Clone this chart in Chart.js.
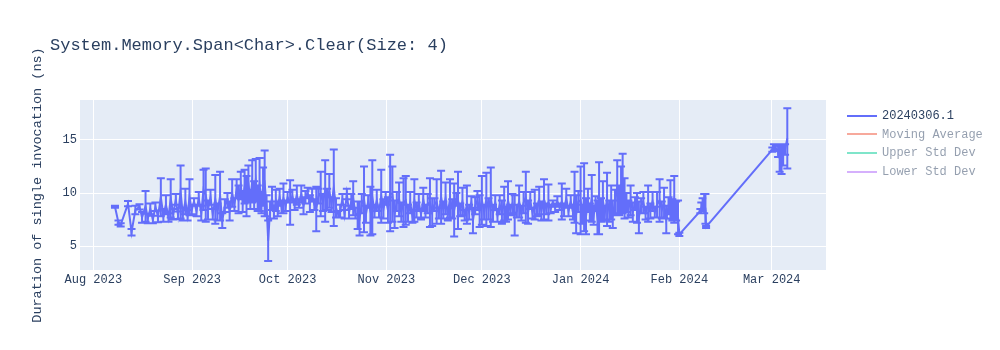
<!DOCTYPE html>
<html>
<head>
<meta charset="utf-8">
<title>System.Memory.Span&lt;Char&gt;.Clear(Size: 4)</title>
<script src="https://cdn.jsdelivr.net/npm/chart.js@4.4.1/dist/chart.umd.min.js"></script>
<style>
  html, body { margin: 0; padding: 0; background: #fff; }
  #wrap { position: relative; width: 1000px; height: 350px; }
  #chartTitle {
    position: absolute; left: 50px; top: 36px;
    font: 17px "Liberation Mono", "Courier New", monospace;
    line-height: 20px; color: #2a3f5f; white-space: pre;
  }
  #chartLegend {
    position: absolute; left: 847px; top: 107px;
    font: 12px "Liberation Mono", "Courier New", monospace; color: #2a3f5f;
  }
  .lg-item { height: 18.6px; line-height: 18.6px; white-space: pre; }
  .lg-item.off { opacity: 0.5; }
  .lg-line { display: inline-block; width: 30px; height: 2px; vertical-align: middle; margin-right: 5px; }
</style>
</head>
<body>
<div id="wrap">
  <canvas id="chartBench" width="1000" height="350"></canvas>
  <div id="chartTitle">System.Memory.Span&lt;Char&gt;.Clear(Size: 4)</div>
  <div id="chartLegend"></div>
</div>
<script>
// ─── Data ────────────────────────────────────────────────────────────────────
// runDay = days after seriesStart, meanNs = duration, errNs = error bar half-size
const seriesStart = '2023-08-01';
const seriesLabel = '20240306.1';
const hiddenLabels = ['Moving Average', 'Upper Std Dev', 'Lower Std Dev'];

const runDay = [
  6.8, 7.9, 8.6, 10.9, 12.0, 13.2, 14.5, 15.3, 16.4, 17.1, 17.9, 18.7, 19.5, 20.3,
  21.2, 22.0, 22.8, 23.6, 24.3, 25.1, 25.9, 26.6, 27.4, 28.1, 28.9, 29.6, 30.2, 30.9,
  31.6, 32.4, 33.1, 33.9, 34.6, 35.3, 36.0, 36.8, 37.5, 38.3, 39.0, 39.8, 40.5, 41.3,
  42.1, 42.8, 43.6, 44.3, 45.0, 45.6, 46.3, 46.9, 47.5, 48.1, 48.7, 49.3, 49.9, 50.5,
  51.0, 51.6, 52.2, 52.8, 53.3, 53.8, 54.4, 54.9, 55.5, 56.1, 56.7, 57.3, 57.9, 58.5,
  59.1, 59.7, 60.4,
  61.0, 61.8, 62.5, 63.2, 63.9, 64.6, 65.3, 66.0, 66.6, 67.3, 68.0, 68.7, 69.4, 70.0,
  70.7, 71.4, 72.1, 72.8, 73.4, 74.1, 74.8, 75.5, 76.2, 76.9, 77.5, 78.2, 78.9, 79.6,
  80.3, 81.0, 81.6, 82.3, 83.0, 83.6, 84.3, 85.0, 85.6, 86.3, 87.0, 87.6, 88.3, 89.0,
  89.7, 90.4, 91.1, 91.8,
  92.5, 93.2, 93.9, 94.6, 95.3, 96.0, 96.7, 97.4, 98.1, 98.8, 99.5, 100.2, 100.8, 101.5,
  102.2, 102.9, 103.6, 104.3, 105.0, 105.7, 106.4, 107.1, 107.8, 108.5, 109.2, 109.9,
  110.6, 111.3, 112.0, 112.7, 113.3, 114.0, 114.5, 115.2, 115.9, 116.6, 117.3, 118.0,
  118.7, 119.2, 119.9, 120.6, 121.3, 122.0,
  122.7, 123.4, 124.1, 124.8, 125.5, 126.2, 126.9, 127.6, 128.3, 129.0, 129.6, 130.2,
  130.9, 131.6, 132.3, 133.0, 133.7, 134.4, 135.1, 135.8, 136.5, 137.2, 137.9, 138.6,
  139.3, 140.0, 140.7, 141.5, 142.2, 142.9, 143.6, 144.3, 145.0, 145.7, 146.4, 147.1,
  147.8, 148.5, 149.2, 149.9, 150.6, 151.1, 151.6, 152.3,
  153.0, 153.6, 154.1, 154.7, 155.3, 155.9, 156.5, 157.1, 157.7, 158.3, 158.8, 159.4,
  160.0, 160.6, 161.3, 162.0, 162.6, 163.1, 163.8, 164.5, 165.1, 165.7, 166.2, 166.8,
  167.4, 168.0, 168.7, 169.4, 170.1, 170.7, 171.3, 172.0, 172.7, 173.4, 174.2, 174.9,
  175.6, 176.3, 177.0, 177.8, 178.5, 179.2, 179.9, 180.6, 181.2, 181.8, 182.4, 183.0,
  183.6, 184.0,
  190.6, 190.9, 191.3, 191.8, 192.2, 192.4,
  213.2, 213.7, 214.3, 215.0, 215.5, 216.1, 216.6, 217.2, 217.9
];

const meanNs = [
  8.7, 7.2, 7.0, 9.0, 6.3, 8.4, 8.7, 7.7, 8.75, 7.6, 8.5, 7.5, 8.7, 7.8,
  9.6, 7.9, 8.9, 7.7, 9.5, 8.0, 9.4, 7.9, 10.1, 8.0, 9.2, 7.9, 9.6, 8.4,
  9.2, 8.3, 9.5, 8.1, 10.3, 9.8, 8.4, 9.6, 8.0, 9.4, 8.2, 9.7, 7.4, 8.8,
  9.3, 8.3, 10.0, 8.9, 10.4, 9.4, 10.7, 9.2, 10.6, 9.7, 10.9, 9.4, 11.1, 9.8,
  11.2, 9.5, 10.8, 9.1, 10.6, 10.9, 8.8, 5.5, 8.4, 9.5, 8.2, 9.3, 8.5, 9.6,
  8.7, 9.5, 8.8,
  9.6, 9.1, 9.7, 8.9, 9.8, 9.0, 9.9, 8.8, 9.6, 10.0, 9.0, 9.8, 8.9, 8.5,
  9.7, 9.9, 9.1, 10.2, 9.4, 10.2, 8.9, 10.5, 8.6, 8.0, 8.3, 9.4, 8.0, 9.9,
  8.2, 9.2, 9.5, 8.1, 7.9, 7.6, 9.0, 9.4, 8.0, 9.2, 8.3, 9.6, 8.3, 9.3,
  8.2, 9.7, 8.5, 9.5,
  8.4, 10.0, 9.9, 8.0, 9.2, 9.4, 8.2, 9.1, 9.3, 8.1, 9.1, 7.8, 9.3, 8.4,
  9.1, 8.0, 9.4, 8.3, 9.0, 9.1, 8.2, 8.9, 9.2, 8.1, 9.6, 8.4,
  9.5, 8.0, 9.5, 8.5, 8.4, 9.4, 9.3, 8.4, 9.2, 7.9, 8.9, 8.2,
  9.1, 7.4, 8.8, 9.3, 8.3, 9.3,
  8.2, 9.4, 8.5, 9.6, 8.1, 9.1, 7.9, 8.9, 8.2, 9.0, 8.0, 9.3,
  8.4, 9.0, 7.9, 8.3, 9.2, 8.1, 9.1, 9.6, 8.2, 9.3, 8.1, 8.9,
  8.4, 9.3, 8.3, 9.4, 8.5, 9.1, 8.5, 9.0, 8.6, 9.2, 8.7, 9.2,
  8.4, 9.5, 8.3, 9.2, 8.2, 9.6, 8.0, 9.2,
  9.3, 8.0, 9.6, 7.8, 9.3, 8.2, 9.5, 7.9, 9.0, 7.7, 9.5, 8.4,
  9.3, 8.1, 9.4, 8.3, 9.1, 8.0, 9.1, 10.6, 9.3, 10.3, 10.9, 9.5,
  9.1, 8.5, 9.3, 8.2, 9.0, 8.6, 7.7, 8.8, 9.1, 8.1, 9.0, 8.3,
  9.2, 8.2, 8.9, 9.3, 8.4, 9.1, 7.5, 8.8, 9.4, 8.4, 9.4, 8.3,
  7.7, 6.1,
  8.3, 8.6, 8.9, 9.0, 8.5, 6.8,
  14.1, 14.3, 14.2, 14.0, 13.3, 13.2, 13.6, 14.1, 15.15
];

const errNs = [
  0.1, 0.2, 0.15, 0.25, 0.3, 0.4, 0.25, 0.5, 1.45, 0.45, 0.5, 0.35, 0.4, 0.55,
  1.8, 0.6, 0.9, 0.4, 1.8, 0.5, 0.5, 0.35, 2.5, 0.6, 1.2, 0.5, 1.7, 0.4,
  0.3, 0.5, 0.6, 0.7, 1.9, 2.5, 0.9, 0.7, 0.5, 2.3, 0.8, 2.3, 0.7, 0.6,
  0.7, 0.9, 1.3, 0.6, 0.9, 1.3, 1.3, 1.0, 1.6, 1.9, 1.7, 0.9, 2.0, 1.3,
  2.0, 1.2, 2.5, 1.0, 1.8, 3.1, 1.0, 1.9, 0.8, 1.1, 0.6, 1.0, 0.7, 0.8,
  0.6, 1.4, 0.5,
  0.5, 2.1, 0.6, 0.5, 0.9, 0.4, 0.8, 0.8, 0.6, 0.5, 0.8, 0.6, 0.5, 2.1,
  0.7, 2.1, 0.8, 2.9, 1.0, 1.6, 0.7, 3.6, 0.9, 0.3, 0.6, 0.5, 0.4, 0.5,
  0.6, 0.7, 1.6, 0.5, 1.3, 1.6, 0.9, 3.1, 0.8, 0.6, 2.3, 3.5, 0.6, 1.0,
  0.5, 2.5, 0.9, 0.6,
  1.2, 3.6, 2.6, 1.3, 0.9, 1.6, 0.9, 2.3, 2.3, 0.8, 1.0, 0.6, 2.0, 0.7,
  0.8, 0.5, 1.1, 0.6, 0.9, 2.3, 1.3, 0.6, 2.1, 0.5, 2.5, 0.8,
  1.5, 0.6, 1.8, 0.9, 2.5, 0.6, 2.7, 0.6, 1.3, 0.5, 1.8, 0.7,
  0.6, 1.2, 0.8, 0.9, 1.5, 2.3,
  0.7, 2.5, 1.0, 2.8, 0.8, 0.7, 0.6, 0.9, 1.1, 1.6, 0.7, 1.8,
  0.5, 0.9, 1.9, 0.6, 1.5, 0.7, 1.0, 2.4, 1.1, 0.8, 0.5, 1.4,
  0.6, 1.3, 0.9, 1.9, 0.5, 1.7, 0.4, 0.3, 0.4, 0.5, 0.3, 1.7,
  0.6, 0.9, 0.5, 0.6, 0.7, 2.4, 1.8, 1.0,
  3.2, 0.9, 3.2, 1.7, 1.1, 0.8, 2.2, 0.9, 0.7, 1.6, 3.4, 1.1,
  1.8, 0.7, 2.5, 1.0, 1.6, 1.3, 1.2, 2.5, 1.4, 2.2, 2.8, 1.9,
  0.9, 0.8, 1.4, 0.9, 0.6, 1.4, 1.5, 0.7, 1.0, 0.6, 1.7, 0.7,
  0.9, 0.5, 1.2, 2.0, 0.8, 1.4, 1.3, 0.8, 1.8, 1.0, 2.2, 0.9,
  1.6, 0.15,
  0.2, 0.5, 0.6, 0.9, 1.4, 0.1,
  0.2, 0.3, 0.25, 0.6, 1.3, 1.4, 1.0, 0.5, 2.85
];

const tickDates  = ['2023-08-01', '2023-09-01', '2023-10-01', '2023-11-01', '2023-12-01', '2024-01-01', '2024-02-01', '2024-03-01'];
const tickLabels = ['Aug 2023', 'Sep 2023', 'Oct 2023', 'Nov 2023', 'Dec 2023', 'Jan 2024', 'Feb 2024', 'Mar 2024'];
const yTickValues = [5, 10, 15];

// ─── Styling ─────────────────────────────────────────────────────────────────
const MONO      = '"Liberation Mono", "Courier New", monospace';
const INK       = '#2a3f5f';
const PLOT_BG   = '#e5ecf6';
const SERIES    = '#636efa';
const HIDDEN_COLOURS = ['#EF553B', '#00cc96', '#ab63fa'];

const DAY_MS = 864e5;
const tickDays = tickDates.map(s => (Date.parse(s) - Date.parse(seriesStart)) / DAY_MS);

// ─── Plugins ─────────────────────────────────────────────────────────────────
const plotBackground = {
  id: 'plotBackground',
  beforeDraw(chart) {
    const { ctx, chartArea: a } = chart;
    ctx.save();
    ctx.fillStyle = PLOT_BG;
    ctx.fillRect(a.left, a.top, a.right - a.left, a.bottom - a.top);
    ctx.restore();
  }
};

// symmetric error bars with caps, positioned through the chart's own scales
const errorBars = {
  id: 'errorBars',
  afterDatasetsDraw(chart) {
    const meta = chart.getDatasetMeta(0);
    const y = chart.scales.y;
    const { ctx, chartArea: a } = chart;
    ctx.save();
    ctx.beginPath();
    ctx.rect(a.left, a.top, a.right - a.left, a.bottom - a.top);
    ctx.clip();
    ctx.strokeStyle = SERIES;
    ctx.lineWidth = 2;
    ctx.beginPath();
    meta.data.forEach((pt, i) => {
      const top = y.getPixelForValue(meanNs[i] + errNs[i]);
      const bot = y.getPixelForValue(meanNs[i] - errNs[i]);
      ctx.moveTo(pt.x, top);     ctx.lineTo(pt.x, bot);
      ctx.moveTo(pt.x - 4, top); ctx.lineTo(pt.x + 4, top);
      ctx.moveTo(pt.x - 4, bot); ctx.lineTo(pt.x + 4, bot);
    });
    ctx.stroke();
    ctx.restore();
  }
};

// ─── Chart ───────────────────────────────────────────────────────────────────
const datasets = [{
  label: seriesLabel,
  data: runDay.map((d, i) => ({ x: d, y: meanNs[i] })),
  borderColor: SERIES,
  backgroundColor: SERIES,
  borderWidth: 2,
  pointRadius: 0,
  tension: 0,
  fill: false,
}].concat(hiddenLabels.map((label, i) => ({
  label,
  data: [],
  borderColor: HIDDEN_COLOURS[i],
  backgroundColor: HIDDEN_COLOURS[i],
  borderWidth: 2,
  pointRadius: 0,
  hidden: true,
})));

const chart = new Chart(document.getElementById('chartBench'), {
  type: 'line',
  data: { datasets },
  options: {
    responsive: false,
    animation: false,
    devicePixelRatio: 1,
    layout: { padding: { left: 0, right: 174, top: 100, bottom: 50 } },
    plugins: { legend: { display: false }, title: { display: false }, tooltip: { enabled: false } },
    scales: {
      x: {
        type: 'linear',
        min: -4.18,
        max: 230.05,
        afterBuildTicks: s => { s.ticks = tickDays.map(value => ({ value })); },
        afterFit: s => { s.height = 30; },
        ticks: {
          autoSkip: false, maxRotation: 0, padding: 3,
          color: INK, font: { family: MONO, size: 12 },
          callback: v => tickLabels[tickDays.indexOf(v)],
        },
        grid: { color: '#ffffff', lineWidth: 1, drawTicks: false },
        border: { display: false },
      },
      y: {
        min: 2.74,
        max: 18.77,
        afterBuildTicks: s => { s.ticks = yTickValues.map(value => ({ value })); },
        afterFit: s => { s.width = 80; },
        ticks: { padding: 3, color: INK, font: { family: MONO, size: 12 }, callback: v => String(v) },
        grid: { color: '#ffffff', lineWidth: 1, drawTicks: false },
        border: { display: false },
        title: {
          display: true,
          text: 'Duration of single invocation (ns)',
          color: INK,
          font: { family: MONO, size: 13.5 },
          padding: { top: 29, bottom: 0 },
        },
      },
    },
  },
  plugins: [plotBackground, errorBars],
});

// ─── Legend (built from the chart's datasets) ────────────────────────────────
document.getElementById('chartLegend').innerHTML = chart.data.datasets.map(ds => `
  <div class="lg-item${ds.hidden ? ' off' : ''}"><span class="lg-line" style="background:${ds.borderColor}"></span>${ds.label}</div>`).join('');
</script>
</body>
</html>
